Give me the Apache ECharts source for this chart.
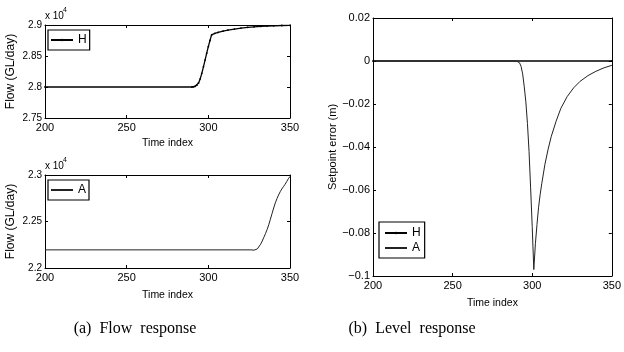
<!DOCTYPE html>
<html>
<head>
<meta charset="utf-8">
<script src="https://cdn.jsdelivr.net/npm/echarts@6/dist/echarts.min.js"></script>
<style>
html,body{margin:0;padding:0;background:#fff;}
#c{width:624px;height:352px;}
</style>
</head>
<body>
<div id="c"></div>
<script>
// ---- data ----
const xTicks = [200, 250, 300, 350];

// (a) top: flow of H (GL/day)
const hTime = [200, 290, 291, 292, 293, 294, 295, 296, 297, 298, 299, 300, 301, 302, 304, 306, 309, 312, 316, 320, 324, 328, 332, 336, 340, 345, 350];
const hFlow = [28000, 28000, 28003, 28012, 28030, 28065, 28130, 28220, 28325, 28435, 28545, 28650, 28750, 28840, 28865, 28880, 28900, 28918, 28935, 28950, 28962, 28970, 28977, 28982, 28987, 28992, 28995];

// (a) bottom: flow of A (GL/day)
const aTime = [200, 326, 328, 329, 330, 331, 332, 333, 334, 335, 336, 337, 338, 339, 340, 341, 342, 343, 344, 345, 346, 347, 348, 349, 350];
const aFlow = [22195, 22195, 22192, 22195, 22205, 22225, 22255, 22290, 22330, 22370, 22415, 22465, 22525, 22585, 22645, 22700, 22745, 22785, 22820, 22850, 22875, 22900, 22930, 22960, 22985];

// (b) setpoint error (m)
const errHTime = [200, 350];
const errH = [0, 0];
const errATime = [200, 290, 291, 292, 293, 294, 295, 296, 297, 298, 299, 300, 301, 302, 303, 304, 305, 306, 308, 310, 312, 315, 318, 322, 326, 330, 335, 340, 345, 350];
const errA = [0, 0, -0.0002, -0.0008, -0.0025, -0.006, -0.012, -0.019, -0.029, -0.042, -0.059, -0.077, -0.097, -0.085, -0.076, -0.068, -0.062, -0.057, -0.048, -0.041, -0.035, -0.028, -0.022, -0.0165, -0.0125, -0.0095, -0.0068, -0.0048, -0.0032, -0.002];

const flowTopTicks = [27500, 28000, 28500, 29000];
const flowBotTicks = [22000, 22500, 23000];
const errTicks = [-0.1, -0.08, -0.06, -0.04, -0.02, 0, 0.02];

const zip = (a, b) => a.map((v, i) => [v, b[i]]);

const FONT = 'Liberation Sans, Arial, Helvetica, sans-serif';
const BLACK = '#000';

function xAx(grid, pos, showLabel, name) {
  return {
    type: 'value', gridIndex: grid, position: pos,
    min: xTicks[0], max: xTicks[xTicks.length - 1], interval: 50,
    axisLine: {show: true, onZero: false, lineStyle: {color: BLACK, width: 1}},
    axisTick: {show: true, inside: true, length: 3, lineStyle: {color: BLACK}},
    axisLabel: {show: showLabel, color: BLACK, fontSize: 11, fontFamily: FONT, margin: 4},
    splitLine: {show: false},
    name: name || '', nameLocation: 'middle', nameGap: 20,
    nameTextStyle: {color: BLACK, fontSize: 10.5, fontFamily: FONT}
  };
}
function yAx(grid, pos, ticks, showLabel, fmt, name, gap, fs, lfs) {
  const iv = Math.round((ticks[1] - ticks[0]) * 1e6) / 1e6;
  return {
    type: 'value', gridIndex: grid, position: pos,
    min: ticks[0], max: ticks[ticks.length - 1], interval: iv,
    axisLine: {show: true, onZero: false, lineStyle: {color: BLACK, width: 1}},
    axisTick: {show: true, inside: true, length: 3, lineStyle: {color: BLACK}},
    axisLabel: {show: showLabel, color: BLACK, fontSize: lfs, fontFamily: FONT, margin: 3, formatter: fmt},
    splitLine: {show: false},
    name: name || '', nameLocation: 'middle', nameGap: gap || 0, nameRotate: 90,
    nameTextStyle: {color: BLACK, fontSize: fs || 11, fontFamily: FONT}
  };
}
const fmtFlow = v => String(Math.round(v / 10) / 1000);
const fmtErr = v => String(Math.round(v * 100) / 100).replace('-', '\u2212');

const chart = echarts.init(document.getElementById('c'), null, {renderer: 'canvas'});
chart.setOption({
  animation: false,
  backgroundColor: '#fff',
  grid: [
    {left: 45, top: 25, width: 245, height: 93},
    {left: 45, top: 175, width: 245, height: 93},
    {left: 373, top: 18, width: 243, height: 258}
  ],
  xAxis: [
    xAx(0, 'bottom', true, 'Time index'),
    xAx(0, 'top', false),
    Object.assign(xAx(1, 'bottom', true, 'Time index'), {nameGap: 22}),
    xAx(1, 'top', false),
    Object.assign(xAx(2, 'bottom', true, 'Time index'), {nameGap: 22}),
    xAx(2, 'top', false)
  ],
  yAxis: [
    yAx(0, 'left', flowTopTicks, true, fmtFlow, 'Flow (GL/day)', 28, 12, 10),
    yAx(0, 'right', flowTopTicks, false, fmtFlow),
    yAx(1, 'left', flowBotTicks, true, fmtFlow, 'Flow (GL/day)', 28, 12, 10),
    yAx(1, 'right', flowBotTicks, false, fmtFlow),
    yAx(2, 'left', errTicks, true, fmtErr, 'Setpoint error (m)', 31, 11, 11),
    yAx(2, 'right', errTicks, false, fmtErr)
  ],
  legend: [
    {data: ['H'], left: 48, top: 30, orient: 'vertical', itemWidth: 22, itemHeight: 3,
     padding: [4, 3, 4, 2], borderColor: BLACK, borderWidth: 1.2, backgroundColor: '#fff',
     textStyle: {color: BLACK, fontSize: 12, fontFamily: FONT}, selectedMode: false},
    {data: [{name: 'A', itemStyle: {opacity: 0}}], left: 48, top: 180, orient: 'vertical', itemWidth: 22, itemHeight: 3,
     padding: [4, 3, 4, 2], borderColor: BLACK, borderWidth: 1.2, backgroundColor: '#fff',
     textStyle: {color: BLACK, fontSize: 12, fontFamily: FONT}, selectedMode: false},
    {data: ['H', {name: 'A', itemStyle: {opacity: 0}}], left: 379, top: 222, orient: 'vertical', itemWidth: 22, itemHeight: 3,
     itemGap: 3, padding: [5, 4, 4, 5], borderColor: BLACK, borderWidth: 1.2, backgroundColor: '#fff',
     textStyle: {color: BLACK, fontSize: 12, fontFamily: FONT}, selectedMode: false}
  ],
  series: [
    {name: 'H', type: 'line', xAxisIndex: 0, yAxisIndex: 0, data: zip(hTime, hFlow),
     symbol: 'circle', symbolSize: 1.8, showSymbol: true, z: 3,
     lineStyle: {color: BLACK, width: 1.3}, itemStyle: {color: BLACK}},
    {name: 'A', type: 'line', xAxisIndex: 2, yAxisIndex: 2, data: zip(aTime, aFlow),
     symbol: 'none', lineStyle: {color: '#222', width: 1}, itemStyle: {color: '#222'}},
    {name: 'H', type: 'line', xAxisIndex: 4, yAxisIndex: 4, data: zip(errHTime, errH),
     symbol: 'circle', symbolSize: 1.8, showSymbol: true, z: 3,
     lineStyle: {color: BLACK, width: 1.3}, itemStyle: {color: BLACK}},
    {name: 'A', type: 'line', xAxisIndex: 4, yAxisIndex: 4, data: zip(errATime, errA),
     symbol: 'none', lineStyle: {color: '#222', width: 1}, itemStyle: {color: '#222'}}
  ],
  graphic: [
    {type: 'text', left: 45, top: 11, style: {text: 'x 10', fill: BLACK, fontSize: 10, fontFamily: FONT}},
    {type: 'text', left: 63, top: 7, style: {text: '4', fill: BLACK, fontSize: 7, fontFamily: FONT}},
    {type: 'text', left: 45, top: 161, style: {text: 'x 10', fill: BLACK, fontSize: 10, fontFamily: FONT}},
    {type: 'text', left: 63, top: 157, style: {text: '4', fill: BLACK, fontSize: 7, fontFamily: FONT}},
    {type: 'text', x: 135, y: 329, style: {text: '(a)  Flow  response', fill: BLACK, fontSize: 16, fontFamily: 'Liberation Serif, Times New Roman, serif', align: 'center', verticalAlign: 'middle'}},
    {type: 'text', x: 412, y: 329, style: {text: '(b)  Level  response', fill: BLACK, fontSize: 16, fontFamily: 'Liberation Serif, Times New Roman, serif', align: 'center', verticalAlign: 'middle'}}
  ]
});
</script>
</body>
</html>
